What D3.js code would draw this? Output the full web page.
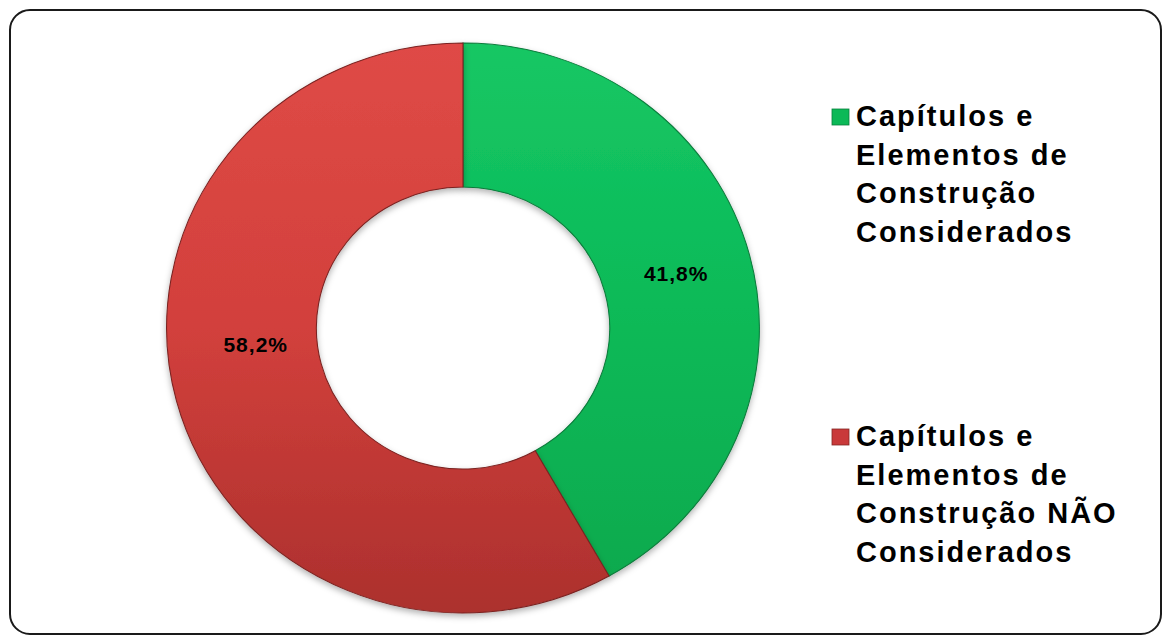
<!DOCTYPE html>
<html>
<head>
<meta charset="utf-8">
<script src="https://cdn.jsdelivr.net/npm/d3@7/dist/d3.min.js"></script>
<style>
  body { margin: 0; background: #fff; }
  text { font-family: "Liberation Sans", Arial, sans-serif; font-weight: bold; }
</style>
</head>
<body>
<script>
// data
var categories = ["Capítulos e Elementos de Construção Considerados",
                  "Capítulos e Elementos de Construção NÃO Considerados"];
var legendLines = [["Capítulos e", "Elementos de", "Construção", "Considerados"],
                   ["Capítulos e", "Elementos de", "Construção NÃO", "Considerados"]];
var values = [41.8, 58.2];
var valueLabels = ["41,8%", "58,2%"];

var width = 1166, height = 644;
var cx = 463, cy = 328, outerR = 285, innerR = 141, stretchX = 1.04;
// label placement nudges (degrees / radius), like the office layout
var labelShift = [0, 10];
var labelRad = [212, 200];

var svg = d3.select("body").append("svg")
    .attr("width", width)
    .attr("height", height);
var defs = svg.append("defs");

var grads = [["#16c764", "#0bb957", "#08a84d"], ["#df4a46", "#d2403c", "#ac302d"]];
grads.forEach(function (g, i) {
    var lg = defs.append("linearGradient")
        .attr("id", "g" + i)
        .attr("gradientUnits", "userSpaceOnUse")
        .attr("x1", 0).attr("y1", -outerR).attr("x2", 0).attr("y2", outerR);
    lg.append("stop").attr("offset", "0%").attr("stop-color", g[0]);
    lg.append("stop").attr("offset", "50%").attr("stop-color", g[1]);
    lg.append("stop").attr("offset", "100%").attr("stop-color", g[2]);
});

defs.append("filter").attr("id", "shadow")
    .attr("x", "-10%").attr("y", "-10%").attr("width", "120%").attr("height", "120%")
    .append("feDropShadow")
    .attr("dx", 0).attr("dy", 3).attr("stdDeviation", 3)
    .attr("flood-color", "#000").attr("flood-opacity", 0.3);

// frame
svg.append("rect")
    .attr("x", 10).attr("y", 10)
    .attr("width", 1151).attr("height", 624)
    .attr("rx", 20).attr("ry", 20)
    .attr("fill", "#fff")
    .attr("stroke", "#1a1a1a")
    .attr("stroke-width", 2);

var pie = d3.pie().sort(null).value(function (d) { return d; });
var arc = d3.arc().innerRadius(innerR).outerRadius(outerR);
var arcs = pie(values);

var g = svg.append("g")
    .attr("transform", "translate(" + cx + "," + cy + ") scale(" + stretchX + ",1)");

g.selectAll("path.slice")
    .data(arcs)
    .enter()
    .append("path")
    .attr("class", "slice")
    .attr("d", arc)
    .attr("fill", function (d, i) { return "url(#g" + i + ")"; })
    .attr("stroke", function (d, i) { return i === 0 ? "#087a3a" : "#7a2220"; })
    .attr("stroke-width", 1)
    .attr("filter", "url(#shadow)");

// value labels
function labelPos(d, i) {
    var a = (d.startAngle + d.endAngle) / 2 + labelShift[i] * Math.PI / 180;
    return [cx + Math.sin(a) * labelRad[i] * stretchX, cy - Math.cos(a) * labelRad[i]];
}
svg.selectAll("text.val")
    .data(arcs)
    .enter()
    .append("text")
    .attr("class", "val")
    .attr("x", function (d, i) { return labelPos(d, i)[0]; })
    .attr("y", function (d, i) { return labelPos(d, i)[1]; })
    .attr("dy", "0.35em")
    .attr("text-anchor", "middle")
    .attr("font-size", 21)
    .attr("letter-spacing", 1)
    .attr("fill", "#000")
    .text(function (d, i) { return valueLabels[i]; });

// legend
var legendY = d3.scaleOrdinal().domain(categories).range([126, 446]);
var sw = ["#0bb957", "#c9393a"];
var leg = svg.selectAll("g.leg")
    .data(categories)
    .enter()
    .append("g")
    .attr("class", "leg")
    .attr("transform", function (d) { return "translate(0," + legendY(d) + ")"; });

leg.append("rect")
    .attr("x", 832).attr("y", -17)
    .attr("width", 17).attr("height", 16)
    .attr("fill", function (d, i) { return sw[i]; })
    .attr("stroke", function (d, i) { return i === 0 ? "#08803c" : "#842624"; })
    .attr("stroke-width", 0.8);

leg.append("text")
    .attr("x", 856)
    .attr("font-size", 29)
    .attr("letter-spacing", 2)
    .attr("fill", "#000")
    .selectAll("tspan")
    .data(function (d, i) { return legendLines[i]; })
    .enter()
    .append("tspan")
    .attr("x", 856)
    .attr("y", function (d, j) { return j * 38.5; })
    .text(function (d) { return d; });
</script>
</body>
</html>
